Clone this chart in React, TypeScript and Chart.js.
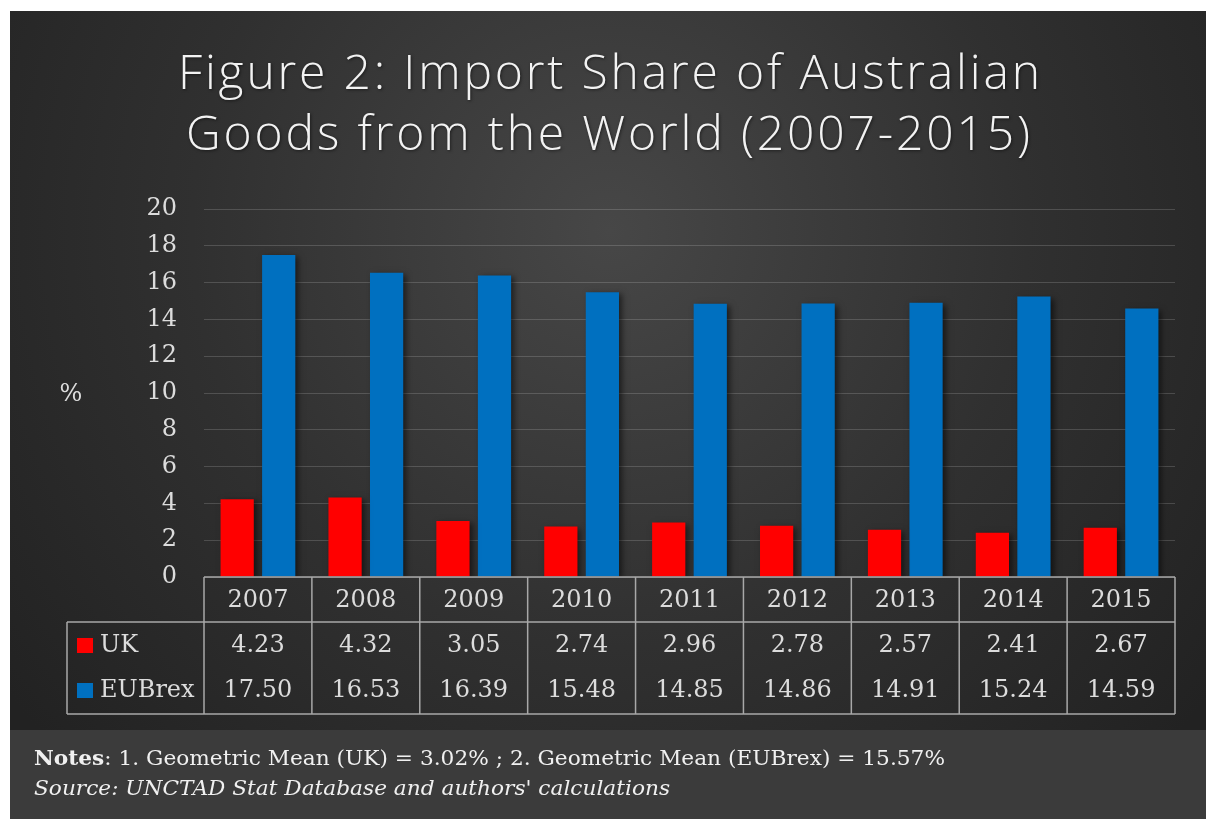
import React, { useEffect, useRef } from "react";
import { Chart, registerables } from "chart.js";

Chart.register(...registerables);

const years = ["2007", "2008", "2009", "2010", "2011", "2012", "2013", "2014", "2015"];
const ukValues = [4.23, 4.32, 3.05, 2.74, 2.96, 2.78, 2.57, 2.41, 2.67];
const eubrexValues = [17.5, 16.53, 16.39, 15.48, 14.85, 14.86, 14.91, 15.24, 14.59];
const titleLines = ["Figure 2: Import Share of Australian", "Goods from the World (2007-2015)"];
const notesBold = "Notes";
const notesRest = ": 1. Geometric Mean (UK) = 3.02% ; 2. Geometric Mean (EUBrex) = 15.57%";
const sourceText = "Source: UNCTAD Stat Database and authors' calculations";
const yAxisLabel = "%";

const W = 1206;
const H = 819;
const SERIF = "'DejaVu Serif', serif";
const TEXT = "#dcdcdc";

const decorPlugin = {
  id: "decor",
  beforeDraw(chart: any) {
    const ctx = chart.ctx;
    ctx.save();
    ctx.fillStyle = "#ffffff";
    ctx.fillRect(0, 0, W, H);
    const g = ctx.createRadialGradient(610, 230, 0, 610, 230, 760);
    g.addColorStop(0, "#474747");
    g.addColorStop(0.55, "#303030");
    g.addColorStop(1, "#222222");
    ctx.fillStyle = g;
    ctx.fillRect(10, 11, W - 10, 730 - 11);
    ctx.fillStyle = "#3b3b3b";
    ctx.fillRect(10, 730, W - 10, H - 730);
    ctx.restore();
  },
  beforeDatasetsDraw(chart: any) {
    const ctx = chart.ctx;
    ctx.save();
    ctx.shadowColor = "rgba(0,0,0,0.55)";
    ctx.shadowBlur = 6;
    ctx.shadowOffsetX = 3;
    ctx.shadowOffsetY = 2;
  },
  afterDatasetsDraw(chart: any) {
    chart.ctx.restore();
  },
  afterDraw(chart: any) {
    const ctx = chart.ctx;
    const area = chart.chartArea;
    const x = chart.scales.x;
    const n = years.length;
    const cw = (area.right - area.left) / n;
    const L = area.left;
    const R = area.right;
    const y0 = area.bottom;
    const y1 = y0 + 45;
    const y2 = y0 + 137;
    const legL = 67;

    ctx.save();
    // Title
    ctx.fillStyle = "#f2f2f2";
    ctx.font = "300 48px 'Open Sans'";
    ctx.textAlign = "left";
    ctx.textBaseline = "alphabetic";
    ctx.shadowColor = "rgba(0,0,0,0.5)";
    ctx.shadowBlur = 3;
    ctx.shadowOffsetX = 1;
    ctx.shadowOffsetY = 1;
    const targets = [862, 844];
    const baselines = [89, 150];
    const centers = [609, 608];
    titleLines.forEach((t, i) => {
      (ctx as any).letterSpacing = "0px";
      const nat = ctx.measureText(t).width;
      const ls = (targets[i] - nat) / (t.length - 1);
      (ctx as any).letterSpacing = ls + "px";
      ctx.fillText(t, centers[i] - targets[i] / 2, baselines[i]);
    });
    (ctx as any).letterSpacing = "0px";
    ctx.shadowColor = "rgba(0,0,0,0)";
    ctx.shadowBlur = 0;
    ctx.shadowOffsetX = 0;
    ctx.shadowOffsetY = 0;

    // % label
    ctx.fillStyle = TEXT;
    ctx.font = "24px " + SERIF;
    ctx.textAlign = "center";
    ctx.textBaseline = "middle";
    ctx.fillText(yAxisLabel, 71, 395);

    // Table lines
    ctx.strokeStyle = "#a8a8a8";
    ctx.lineWidth = 1.5;
    ctx.beginPath();
    ctx.moveTo(L, y0);
    ctx.lineTo(R, y0);
    ctx.moveTo(legL, y1);
    ctx.lineTo(R, y1);
    ctx.moveTo(legL, y2);
    ctx.lineTo(R, y2);
    ctx.moveTo(legL, y1);
    ctx.lineTo(legL, y2);
    for (let i = 0; i <= n; i++) {
      const lx = L + i * cw;
      ctx.moveTo(lx, y0);
      ctx.lineTo(lx, y2);
    }
    ctx.stroke();

    // Table text
    ctx.fillStyle = TEXT;
    ctx.font = "24px " + SERIF;
    ctx.textAlign = "center";
    ctx.textBaseline = "middle";
    years.forEach((yr, i) => {
      const cx = x.getPixelForValue(i);
      ctx.fillText(yr, cx, y0 + 24);
      ctx.fillText(ukValues[i].toFixed(2), cx, y1 + 24);
      ctx.fillText(eubrexValues[i].toFixed(2), cx, y1 + 69);
    });

    // Legend keys
    ctx.textAlign = "left";
    ctx.fillStyle = "#ff0000";
    ctx.fillRect(77, 638, 16, 15);
    ctx.fillStyle = "#0070c0";
    ctx.fillRect(77, 683, 16, 15);
    ctx.fillStyle = TEXT;
    ctx.fillText("UK", 100, y1 + 24);
    ctx.fillText("EUBrex", 100, y1 + 69);

    // Notes
    ctx.fillStyle = "#f0f0f0";
    ctx.textBaseline = "alphabetic";
    const notesFontB = "bold 20px 'DejaVu Serif'";
    const notesFont = "20px 'DejaVu Serif'";
    ctx.font = notesFontB;
    const wb = ctx.measureText(notesBold).width;
    ctx.font = notesFont;
    const wr = ctx.measureText(notesRest).width;
    const sx = 911 / (wb + wr);
    ctx.save();
    ctx.translate(34, 765);
    ctx.scale(sx, 1);
    ctx.font = notesFontB;
    ctx.fillText(notesBold, 0, 0);
    ctx.font = notesFont;
    ctx.fillText(notesRest, wb, 0);
    ctx.restore();

    ctx.font = "italic 20px 'DejaVu Serif'";
    const ws = ctx.measureText(sourceText).width;
    const sx2 = 636 / ws;
    ctx.save();
    ctx.translate(34, 795);
    ctx.scale(sx2, 1);
    ctx.fillText(sourceText, 0, 0);
    ctx.restore();

    ctx.restore();
  },
};

export default function App() {
  const canvasRef = useRef<HTMLCanvasElement | null>(null);

  useEffect(() => {
    if (!canvasRef.current) return;
    const chart = new Chart(canvasRef.current, {
      type: "bar",
      data: {
        labels: years,
        datasets: [
          {
            label: "UK",
            data: ukValues,
            backgroundColor: "#ff0000",
            barPercentage: 0.8,
            categoryPercentage: 0.77,
          },
          {
            label: "EUBrex",
            data: eubrexValues,
            backgroundColor: "#0070c0",
            barPercentage: 0.8,
            categoryPercentage: 0.77,
          },
        ],
      },
      options: {
        responsive: false,
        animation: false,
        devicePixelRatio: 1,
        layout: { padding: { left: 0, right: 31, top: 209, bottom: 242 } },
        plugins: {
          legend: { display: false },
          title: { display: false },
          tooltip: { enabled: false },
        },
        scales: {
          x: { display: false },
          y: {
            min: 0,
            max: 20,
            ticks: {
              stepSize: 2,
              color: TEXT,
              font: { family: "'DejaVu Serif', serif", size: 24 },
              padding: 27,
            },
            grid: { color: "rgba(255,255,255,0.16)", drawTicks: false, lineWidth: 1 },
            border: { display: false },
            afterFit: (scale: any) => {
              scale.width = 204;
            },
          },
        },
      },
      plugins: [decorPlugin],
    });
    return () => chart.destroy();
  }, []);

  return (
    <div style={{ position: "absolute", left: 0, top: 0, width: W, height: H }}>
      <canvas ref={canvasRef} width={W} height={H} style={{ display: "block" }} />
    </div>
  );
}
